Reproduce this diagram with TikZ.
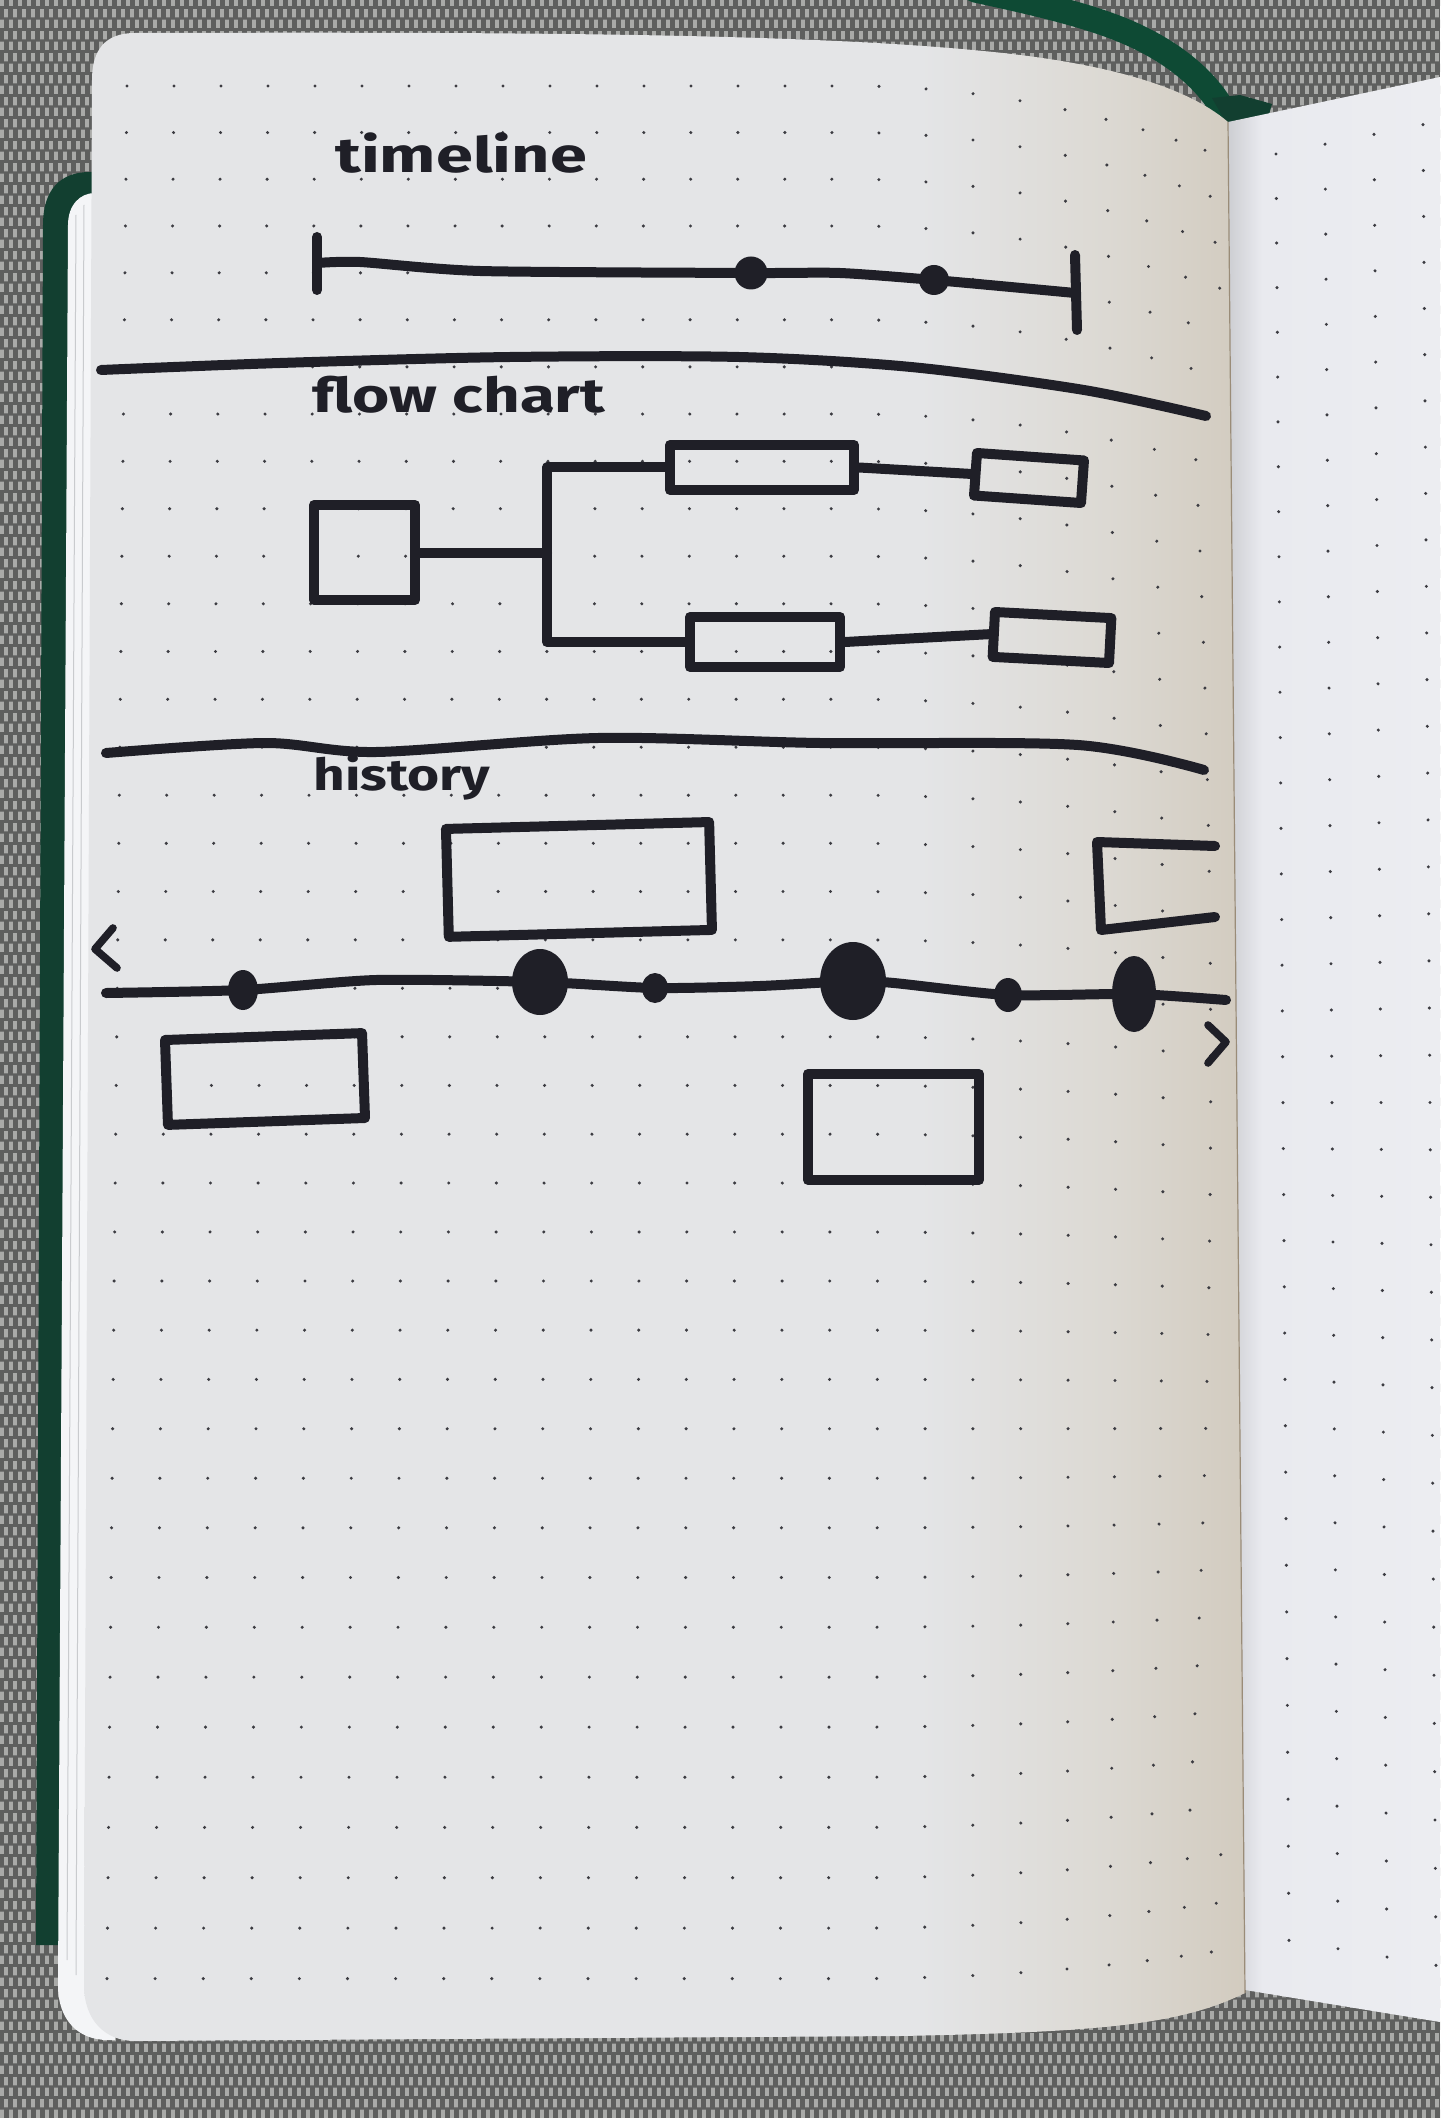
\documentclass[tikz,border=0pt]{standalone}
\usepackage{fontspec}
\usepackage{graphicx}
\newfontfamily\hand{Fira Sans}
\usetikzlibrary{fit,shapes.geometric,patterns.meta}
\definecolor{inkc}{HTML}{1F1F27}
\definecolor{weaveD}{HTML}{5E5F5E}
\definecolor{weaveL}{HTML}{A9AAA8}
\definecolor{cover}{HTML}{123F30}
\definecolor{ribbonc}{HTML}{0E4A34}
\definecolor{pgL}{HTML}{E4E5E7}
\definecolor{pgM}{HTML}{DCD9D3}
\definecolor{pgR}{HTML}{D2CBBF}
\definecolor{rpL}{HTML}{CDCED2}
\definecolor{rpM}{HTML}{E9EAEF}
\definecolor{rpR}{HTML}{ECEDF1}
\definecolor{edgec}{HTML}{F4F5F7}
\definecolor{edgeline}{HTML}{C9CBCE}
\definecolor{dotc}{HTML}{3C3C42}
\definecolor{gutterc}{HTML}{9A8C78}
\pgfdeclarehorizontalshading{leftpage}{100bp}{color(0bp)=(pgL); color(25bp)=(pgL); color(61bp)=(pgL); color(69bp)=(pgM); color(75bp)=(pgR); color(100bp)=(pgR)}
\pgfdeclarehorizontalshading{rightpage}{100bp}{color(0bp)=(rpL); color(25bp)=(rpL); color(33bp)=(rpM); color(75bp)=(rpR); color(100bp)=(rpR)}
\pgfdeclarepattern{
  name=weave,
  bottom left={\pgfpoint{0pt}{0pt}},
  top right={\pgfpoint{4.25pt}{11pt}},
  tile size={\pgfpoint{4.25pt}{11pt}},
  code={
    \pgfpathrectangle{\pgfpoint{0.1pt}{0.6pt}}{\pgfpoint{2pt}{4.3pt}}
    \pgfpathrectangle{\pgfpoint{2.2pt}{6.1pt}}{\pgfpoint{2pt}{4.3pt}}
    \pgfusepath{fill}
  }
}
\tikzset{
  ink/.style={draw=inkc, line width=5pt, line cap=round, line join=round},
  fcbox/.style={ink, rectangle, inner sep=0pt, fill=none},
  tdot/.style={circle, fill=inkc, draw=none, inner sep=0pt},
  hdot/.style={ellipse, fill=inkc, draw=none, inner sep=0pt},
  handtext/.style={text=inkc, inner sep=0pt, anchor=base west},
  chev/.style={ink, line width=3.8pt},
}
\begin{document}
\begin{tikzpicture}[x=0.5pt,y=-0.5pt]
\useasboundingbox (0,0) rectangle (1440,2118);
% background fabric
\fill[weaveD] (0,0) rectangle (1440,2118);
\fill[pattern=weave, pattern color=weaveL] (0,0) rectangle (1440,2118);
% ribbon and cover bits
\draw[ribbonc, line width=12.5pt, line cap=round] (975,-10) .. controls (1040,4) and (1100,18) .. (1140,38) .. controls (1185,60) and (1212,88) .. (1226,115);
\fill[cover] (1212,98) -- (1240,95) -- (1272,104) -- (1268,118) -- (1228,126) -- cycle;
\fill[cover] (36,1945) -- (43,225) .. controls (43,190) and (60,172) .. (90,172) -- (110,172) -- (110,1945) -- cycle;
% page edges (white layers)
\fill[edgec] (58,1985) -- (68,225) .. controls (68,205) and (80,193) .. (95,193) -- (115,193) -- (115,2040) -- (108,2040) .. controls (78,2040) and (58,2020) .. (58,1985) -- cycle;
\draw[edgeline, line width=0.5pt] (76,215) -- (67,1960);
\draw[edgeline, line width=0.5pt] (84,205) -- (76,1975);
% right page
\path[shading=rightpage] (1228,122) -- (1440,77) -- (1440,2022) -- (1245,1990) -- cycle;
% left page
\path[shading=leftpage] (84,1985) -- (92,80) .. controls (92,50) and (105,33) .. (135,33) .. controls (500,32) and (800,33) .. (983,51) .. controls (1100,62) and (1185,85) .. (1228,122) -- (1245,1993) .. controls (1180,2025) and (1100,2032) .. (900,2036) -- (135,2041) .. controls (105,2041) and (84,2020) .. (84,1985) -- cycle;
\draw[gutterc, line width=0.6pt] (1228,122) -- (1245,1993);
% dot grid, left page
\foreach \j in {0,...,39}{
  \pgfmathsetmacro{\dU}{\j/39}
  \pgfmathsetmacro{\dXl}{127-20*\dU}
  \pgfmathsetmacro{\dS}{47+1.1*\dU}
  \pgfmathsetmacro{\dA}{2*(1-2*\dU)*(1-2*\dU)}
  \pgfmathsetmacro{\dYb}{86+46.5*\j+0.052*\j*\j}
  \pgfmathsetmacro{\dH}{1-1.4*\dU}
  \foreach \k in {0,...,24}{
    \pgfmathsetmacro{\dM}{max(0,\k-19)}
    \pgfmathsetmacro{\dX}{\dXl+\dS*\k-\dA*\dM*\dM}
    \pgfmathsetmacro{\dQ}{max(0,\dX-850)/357}
    \pgfmathsetmacro{\dY}{\dYb+65*\dQ*\dQ*\dH}
    \pgfmathtruncatemacro{\dOk}{\dX<1222}
    \ifnum\dOk=1 \fill[dotc] (\dX,\dY) circle[radius=1.7]; \fi
  }
}
% dot grid, right page
\foreach \j in {0,...,39}{
  \pgfmathsetmacro{\rU}{\j/39}
  \foreach \k in {0,...,3}{
    \pgfmathsetmacro{\rX}{1276+13*\rU+49*\k}
    \pgfmathsetmacro{\rY}{154+44.5*\j+0.032*\j*\j+(-0.2+0.37*\rU)*(\rX-1276)}
    \fill[dotc] (\rX,\rY) circle[radius=1.7];
  }
}
% ---------- timeline ----------
\node[handtext] (tTimeline) at (335,173) {\hand\bfseries\fontsize{24.5}{24.5}\selectfont\scalebox{1.36}[1]{timeline}};
\coordinate (tlL) at (317,263);
\coordinate (tlR) at (1075,293);
\coordinate (tlLt) at (317,237);
\coordinate (tlLb) at (317,290);
\coordinate (tlRt) at (1075,255);
\coordinate (tlRb) at (1077,330);
\node[tdot, minimum size=16.5pt] (t1) at (751,273) {};
\node[tdot, minimum size=15pt] (t2) at (934,280) {};
\draw[ink] (tlLt) -- (tlLb);
\draw[ink] (tlRt) -- (tlRb);
\draw[ink] plot[smooth, tension=0.4] coordinates {(tlL) (360,262) (480,271) (t1.center) (840,273) (t2.center) (tlR)};
% separator 1
\draw[ink] plot[smooth, tension=0.5] coordinates {(101,370) (280,363) (510,357) (739,357) (911,367) (1084,390) (1206,416)};
% ---------- flow chart ----------
\node[handtext] (tFlow) at (312,413) {\hand\bfseries\fontsize{24}{24}\selectfont\scalebox{1.33}[1]{flow chart}};
\node[fcbox, fit={(314,505) (415,600)}] (A) {};
\node[fcbox, fit={(670,445) (854,490)}] (B) {};
\node[fcbox, rotate fit=-4, fit={(977,453) (1081,503)}] (C) {};
\node[fcbox, fit={(690,617) (840,667)}] (D) {};
\node[fcbox, rotate fit=-3, fit={(995,612) (1109,663)}] (E) {};
\coordinate (T) at (547,552.5);
\draw[ink] (A.east) -- (T);
\draw[ink] (B.west) -| (T) |- (D.west);
\draw[ink] (B.east) -- (C.west);
\draw[ink] (D.east) -- (E.west);
% separator 2
\draw[ink] plot[smooth, tension=0.5] coordinates {(106,753) (265,743) (376,752) (598,738) (820,743) (1078,745) (1204,770)};
% ---------- history ----------
\node[handtext] (tHist) at (313,790) {\hand\bfseries\fontsize{22}{22}\selectfont\scalebox{1.25}[1]{history}};
\node[fcbox, rotate fit=1.5, fit={(446,829) (712,930)}] (F) {};
\node[fcbox, rotate fit=2, fit={(165,1040) (365,1118)}] (H) {};
\node[fcbox, fit={(808,1074) (979,1180)}] (I) {};
\coordinate (g1) at (1215,846);
\coordinate (g2) at (1097,842);
\coordinate (g3) at (1101,930);
\coordinate (g4) at (1215,917);
\draw[ink] (g1) -- (g2) -- (g3) -- (g4);
\node[hdot, minimum width=15pt, minimum height=20pt] (h1) at (243,990) {};
\node[hdot, minimum width=28pt, minimum height=33pt] (h2) at (540,982) {};
\node[hdot, minimum width=13pt, minimum height=15pt] (h3) at (655,988) {};
\node[hdot, minimum width=33pt, minimum height=39pt] (h4) at (853,981) {};
\node[hdot, minimum width=14pt, minimum height=17pt] (h5) at (1008,995) {};
\node[hdot, minimum width=22pt, minimum height=38pt] (h6) at (1134,994) {};
\coordinate (hL) at (106,993);
\coordinate (hR) at (1226,1000);
\draw[ink] plot[smooth, tension=0.4] coordinates {(hL) (h1.center) (376,980) (h2.center) (h3.center) (760,986) (h4.center) (894,983) (h5.center) (h6.center) (hR)};
\coordinate (la) at (113,928);
\coordinate (lb) at (95,949);
\coordinate (lc) at (117,968);
\draw[chev] (la) -- (lb) -- (lc);
\coordinate (ra) at (1208,1025);
\coordinate (rb) at (1226,1042);
\coordinate (rc) at (1208,1063);
\draw[chev] (ra) -- (rb) -- (rc);
\end{tikzpicture}
\end{document}
